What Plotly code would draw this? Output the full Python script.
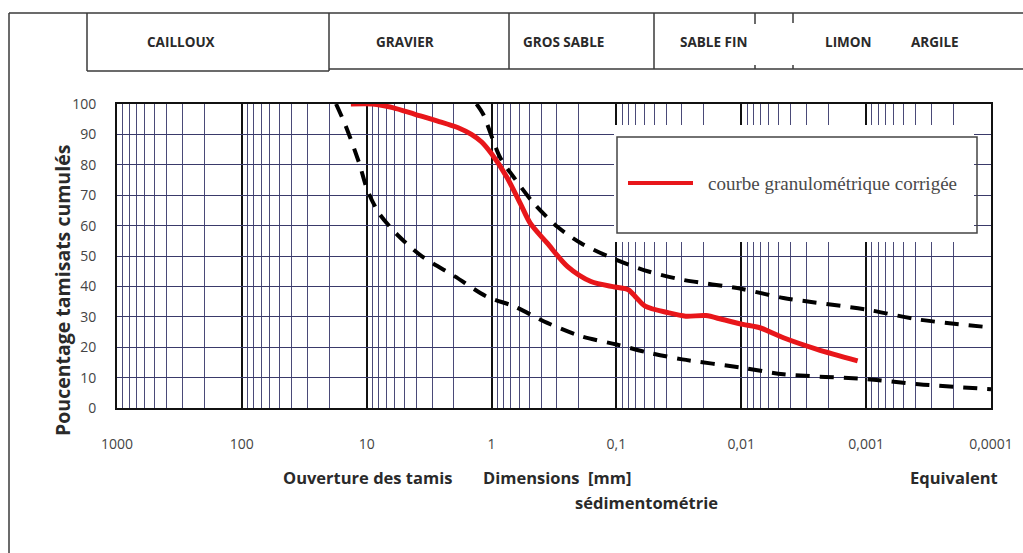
import plotly.graph_objects as go

# ---------------- data ----------------
red_d = [13.4, 9.0, 6.2, 4.1, 2.7, 1.85, 1.45, 1.2, 1.0, 0.756, 0.589, 0.489, 0.358, 0.246,
         0.160, 0.103, 0.0804, 0.0689, 0.0589, 0.0381, 0.0279, 0.0192, 0.0141, 0.00969,
         0.0071, 0.0046, 0.00247, 0.00117]
red_p = [100, 100, 98.8, 96.6, 94.4, 92.2, 90, 87.5, 83.6, 76.0, 67.3, 60.7, 54.2, 46.5,
         41.6, 39.8, 38.9, 36.2, 33.5, 31.3, 30.2, 30.4, 29.1, 27.5,
         26.4, 23.1, 19.3, 15.5]

up_d = [1.32, 1.17, 0.856, 0.667, 0.459, 0.297, 0.192, 0.1, 0.0553, 0.0297, 0.01, 0.0046,
        0.001, 0.00038, 0.0001]
up_p = [100, 96.7, 82.5, 76, 67.3, 59.6, 54.2, 48.7, 44.9, 42.2, 39.2, 36.2,
        32.4, 29.1, 26.5]

lo_d = [17.6, 14.7, 11.5, 9.9, 7.98, 5.53, 3.61, 1.97, 1.1, 0.667, 0.358, 0.192, 0.1,
        0.0553, 0.0297, 0.01, 0.0046, 0.001, 0.00038, 0.0001]
lo_p = [100, 92.7, 80.6, 71.8, 64.1, 56.5, 49.9, 43.3, 36.7, 33.5, 28, 23.6, 20.9,
        18.2, 16, 13.3, 11.1, 9.5, 7.8, 6.2]

x_tickvals = [1000, 100, 10, 1, 0.1, 0.01, 0.001, 0.0001]
x_ticktext = ["1000", "100", "10", "1", "0,1", "0,01", "0,001", "0,0001"]
y_tickvals = [0, 10, 20, 30, 40, 50, 60, 70, 80, 90, 100]

classes = ["CAILLOUX", "GRAVIER", "GROS SABLE", "SABLE FIN", "LIMON", "ARGILE"]
legend_name = "courbe granulométrique corrigée"

# ---------------- layout geometry ----------------
W, H = 1023, 553
L, R, T, B = 117, 991, 104, 408


def px(x):
    return (x - L) / (R - L)


def py(y):
    return (B - y) / (B - T)


fig = go.Figure()
fig.add_trace(go.Scatter(x=lo_d, y=lo_p, mode="lines", showlegend=False,
                         line=dict(color="black", width=4, dash="14px,10px", shape="spline", smoothing=0.8)))
fig.add_trace(go.Scatter(x=up_d, y=up_p, mode="lines", showlegend=False,
                         line=dict(color="black", width=4, dash="14px,10px", shape="spline", smoothing=0.8)))
fig.add_trace(go.Scatter(x=red_d, y=red_p, mode="lines", name=legend_name, showlegend=False,
                         line=dict(color="#e8161a", width=5, shape="spline", smoothing=0.8)))

shapes = []
frame = dict(type="line", xref="paper", yref="paper", line=dict(color="#3a3a3a", width=1.5), layer="above")


def seg(x0, y0, x1, y1):
    d = dict(frame)
    d.update(x0=px(x0), y0=py(y0), x1=px(x1), y1=py(y1))
    shapes.append(d)


# outer frame
seg(9, 13, 1023, 13)
seg(9, 13, 9, 553)
# header boxes
seg(87, 13, 87, 71)
seg(87, 71, 329, 71)
seg(329, 13, 329, 71)
seg(329, 69, 1023, 69)
seg(509, 13, 509, 69)
seg(654, 13, 654, 69)
seg(755, 13, 755, 24)
seg(755, 65, 755, 69)
seg(793, 13, 793, 23)
seg(793, 65, 793, 69)

# legend box (white patch + border + sample)
shapes.append(dict(type="rect", xref="paper", yref="paper", x0=px(614), x1=px(974), y0=py(125), y1=py(242),
                   fillcolor="white", line=dict(width=0), layer="above"))
shapes.append(dict(type="rect", xref="paper", yref="paper", x0=px(617), x1=px(977), y0=py(137), y1=py(233),
                   fillcolor="rgba(0,0,0,0)", line=dict(color="#444", width=1.5), layer="above"))
shapes.append(dict(type="line", xref="paper", yref="paper", x0=px(628), x1=px(693), y0=py(183), y1=py(183),
                   line=dict(color="#e8161a", width=4), layer="above"))

annotations = []
label_font = dict(family="Open Sans", size=13.5, color="#2a2a2a")
class_x = [181, 405, 563, 713, 848, 935]
for name, cx in zip(classes, class_x):
    annotations.append(dict(text="<b>%s</b>" % name, x=px(cx), y=py(42), xref="paper", yref="paper",
                            showarrow=False, font=label_font, xanchor="center", yanchor="middle"))

annotations.append(dict(text=legend_name, x=px(706), y=py(183), xref="paper", yref="paper", showarrow=False,
                        xanchor="left", yanchor="middle",
                        font=dict(family="Liberation Serif", size=19, color="#4a4a4a")))

bold_font = dict(family="Open Sans", size=16.5, color="#2a2a2a")
for txt, cx, cy in [("Ouverture des tamis", 367, 478), ("Dimensions  [mm]", 557, 478),
                    ("sédimentométrie", 646, 502), ("Equivalent", 954, 478)]:
    annotations.append(dict(text="<b>%s</b>" % txt, x=px(cx), y=py(cy), xref="paper", yref="paper",
                            showarrow=False, font=bold_font, xanchor="center", yanchor="middle"))

annotations.append(dict(text="<b>Poucentage tamisats cumulés</b>", x=px(62), y=py(291), xref="paper",
                        yref="paper", showarrow=False, textangle=-90, xanchor="center", yanchor="middle",
                        font=dict(family="Open Sans", size=19.5, color="#2a2a2a")))

tick_font = dict(family="Open Sans", size=14, color="#444")

fig.update_layout(
    width=W, height=H,
    margin=dict(l=L, r=W - R, t=T, b=H - B, autoexpand=False),
    paper_bgcolor="white", plot_bgcolor="white",
    showlegend=False,
    shapes=shapes, annotations=annotations,
    xaxis=dict(type="log", range=[3, -4], tickmode="array", tickvals=x_tickvals, ticktext=x_ticktext,
               showgrid=True, gridcolor="#111", gridwidth=1.5, zeroline=False,
               showline=True, linecolor="#111", linewidth=2, mirror=True,
               ticks="", ticklabelstandoff=22, tickfont=tick_font,
               minor=dict(dtick="D1", showgrid=True, gridcolor="#4a4a78", gridwidth=1, ticks="")),
    yaxis=dict(range=[0, 100], tickmode="array", tickvals=y_tickvals,
               showgrid=True, gridcolor="#3a3a6a", gridwidth=1, zeroline=False,
               showline=True, linecolor="#111", linewidth=2, mirror=True,
               ticks="", ticklabelstandoff=16, tickfont=tick_font),
)

fig.write_html("out.html")
